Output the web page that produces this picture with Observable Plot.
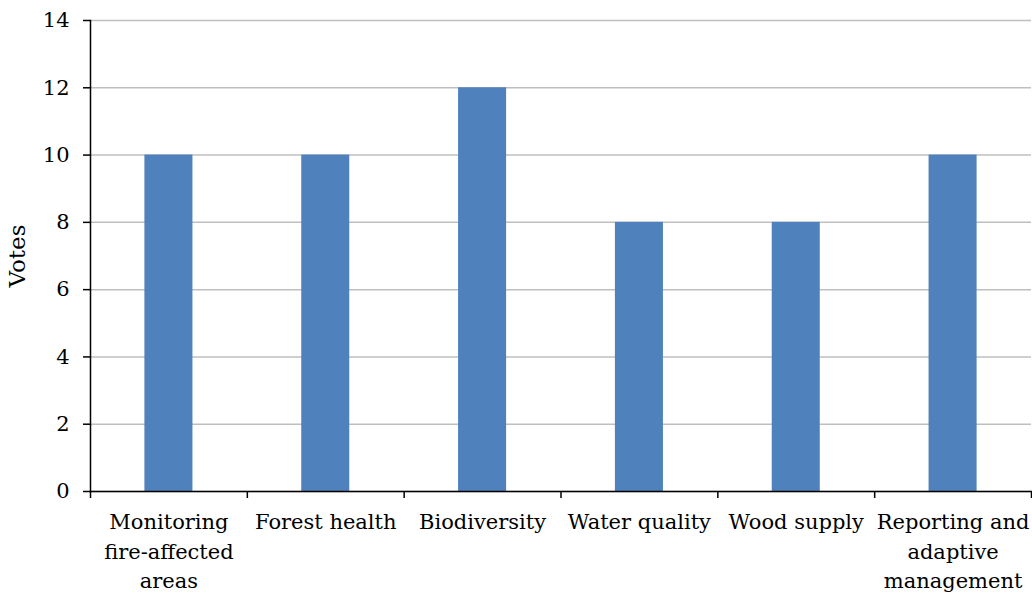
<!DOCTYPE html>
<html><head><meta charset="utf-8">
<script src="https://cdn.jsdelivr.net/npm/d3@7"></script>
<script src="https://cdn.jsdelivr.net/npm/@observablehq/plot@0.6"></script>
<style>body{margin:0;background:#fff}</style>
</head><body><div id="chart"></div>
<script>
const categories = ["Monitoring\nfire-affected\nareas", "Forest health", "Biodiversity", "Water quality", "Wood supply", "Reporting and\nadaptive\nmanagement"];
const votes = [10, 10, 12, 8, 8, 10];
const yTicks = [0, 2, 4, 6, 8, 10, 12, 14];
const data = categories.map((c, i) => ({cat: c, votes: votes[i]}));

const W = 1032, H = 594, mL = 90, mR = 1, mT = 20, mB = 103;
const half = (W - mL - mR) / categories.length / 2;

const chart = Plot.plot({
  width: W, height: H,
  marginLeft: mL, marginRight: mR, marginTop: mT, marginBottom: mB,
  style: {fontFamily: "'DejaVu Serif', serif", fontSize: "21px", color: "#000", background: "#fff"},
  x: {domain: categories, padding: 0, round: false},
  y: {domain: [0, 14]},
  marks: [
    Plot.gridY(yTicks, {stroke: "#bfbfbf", strokeOpacity: 1, strokeWidth: 1.5}),
    Plot.barY(data, {x: "cat", y: "votes", fill: "#4F81BD", insetLeft: 54.4, insetRight: 54.4}),
    Plot.frame({anchor: "left", stroke: "#000", strokeWidth: 1.5}),
    Plot.frame({anchor: "bottom", stroke: "#000", strokeWidth: 1.5}),
    Plot.axisY(yTicks, {tickSize: 7, tickPadding: 14, strokeWidth: 1.5, stroke: "#000", label: null, fill: "#000"}),
    Plot.axisY([], {tickSize: 0, label: "Votes", labelAnchor: "center", labelArrow: "none", labelOffset: 82, fontSize: 23, fill: "#000"}),
    Plot.axisX(categories, {tickSize: 7, strokeWidth: 1.5, stroke: "#000", dx: -half, tickFormat: () => "", label: null}),
    Plot.axisX([categories[categories.length - 1]], {tickSize: 7, strokeWidth: 1.5, stroke: "#000", dx: half, tickFormat: () => "", label: null}),
    Plot.axisX(categories, {tickSize: 0, tickPadding: 17, lineHeight: 1.4, label: null, fill: "#000"})
  ]
});
document.getElementById("chart").appendChild(chart);
</script>
</body></html>
